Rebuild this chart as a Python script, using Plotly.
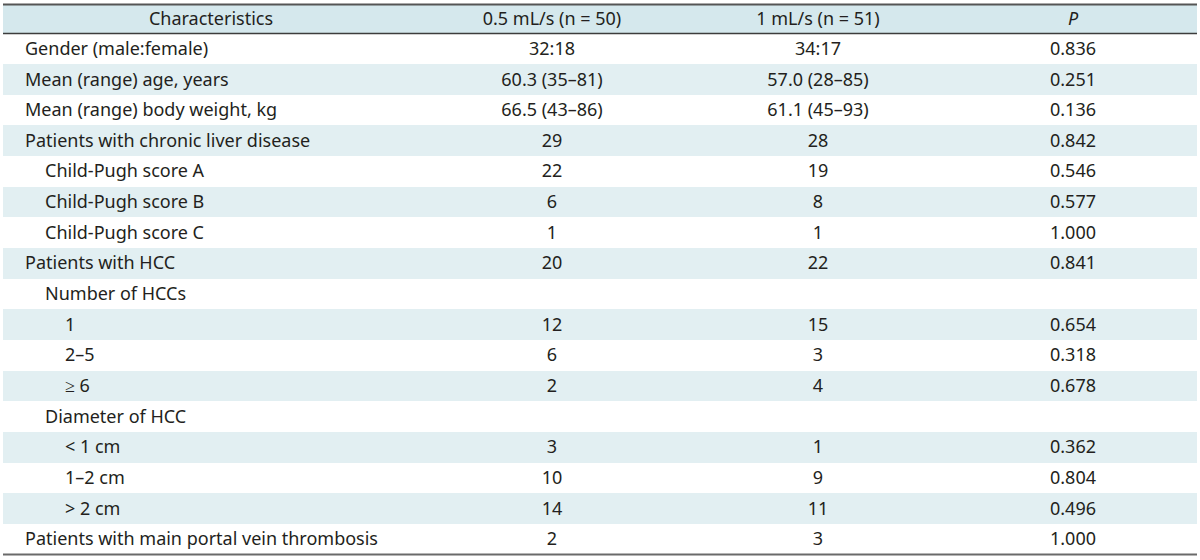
import plotly.graph_objects as go

# ---- data ----
header_labels = ["Characteristics", "0.5 mL/s (n = 50)", "1 mL/s (n = 51)", "<i>P</i>"]

characteristics = [
    "Gender (male:female)",
    "Mean (range) age, years",
    "Mean (range) body weight, kg",
    "Patients with chronic liver disease",
    "Child-Pugh score A",
    "Child-Pugh score B",
    "Child-Pugh score C",
    "Patients with HCC",
    "Number of HCCs",
    "1",
    "2\u20135",
    "\u2265 6",
    "Diameter of HCC",
    "&lt; 1 cm",
    "1\u20132 cm",
    "&gt; 2 cm",
    "Patients with main portal vein thrombosis",
]
indent_levels = [0, 0, 0, 0, 1, 1, 1, 0, 1, 2, 2, 2, 1, 2, 2, 2, 0]

rate_05 = ["32:18", "60.3 (35\u201381)", "66.5 (43\u201386)", "29", "22", "6", "1", "20", "",
           "12", "6", "2", "", "3", "10", "14", "2"]
rate_1 = ["34:17", "57.0 (28\u201385)", "61.1 (45\u201393)", "28", "19", "8", "1", "22", "",
          "15", "3", "4", "", "1", "9", "11", "3"]
p_values = ["0.836", "0.251", "0.136", "0.842", "0.546", "0.577", "1.000", "0.841", "",
            "0.654", "0.318", "0.678", "", "0.362", "0.804", "0.496", "1.000"]

# ---- styling / layout constants ----
W, H = 1200, 560
HEADER_FILL = "#d5e8ed"
STRIPE_FILL = "#e2eff2"
TEXT = "#231f20"
LINE_TOP = "#555555"
LINE_MID = "#3c3c3c"
LINE_BOT = "#6a6a6a"
FONT = dict(family="Noto Sans", size=18, color=TEXT)

X_LEFT, X_RIGHT = 3, 1197          # table extent (x axis in pixel units)
LABEL_X = 25                        # left text start
INDENT = 20                         # px per indent level
COL_CENTERS = [211, 552, 818, 1073]
TEXT_DY = 0.05                      # small downward nudge of text within rows

ROW_PX = 30.65
PLOT_TOP, PLOT_BOT = 3, 557
HEADER_BOTTOM_PX = 33.5
TOP_LINE_PX = 4.5

n = len(characteristics)
rows = list(range(n))
text_rows = [r + TEXT_DY for r in rows]
y_header_bottom = -0.5
y_top_line = y_header_bottom - (HEADER_BOTTOM_PX - TOP_LINE_PX) / ROW_PX
y_range_top = y_header_bottom - (HEADER_BOTTOM_PX - PLOT_TOP) / ROW_PX
y_range_bot = y_range_top + (PLOT_BOT - PLOT_TOP) / ROW_PX
y_header_c = (y_top_line + y_header_bottom) / 2
header_w = y_header_bottom - y_top_line

fig = go.Figure()

# header background
fig.add_trace(go.Bar(
    y=[y_header_c], x=[X_RIGHT - X_LEFT], base=[X_LEFT], width=[header_w],
    orientation="h", marker=dict(color=HEADER_FILL, line=dict(width=0)),
    hoverinfo="skip", showlegend=False))

# striped rows
stripe_rows = [r for r in rows if r % 2 == 1]
fig.add_trace(go.Bar(
    y=stripe_rows, x=[X_RIGHT - X_LEFT] * len(stripe_rows), base=[X_LEFT] * len(stripe_rows),
    width=1, orientation="h", marker=dict(color=STRIPE_FILL, line=dict(width=0)),
    hoverinfo="skip", showlegend=False))

# header texts
fig.add_trace(go.Scatter(
    x=COL_CENTERS, y=[y_header_c + TEXT_DY] * 4, text=header_labels, mode="text",
    textposition="middle center", textfont=FONT, hoverinfo="skip", showlegend=False))

# first column (left aligned with indentation)
fig.add_trace(go.Scatter(
    x=[LABEL_X + INDENT * lvl for lvl in indent_levels], y=text_rows, text=characteristics,
    mode="text", textposition="middle right", textfont=FONT,
    hoverinfo="skip", showlegend=False))

# value columns
for cx, vals in zip(COL_CENTERS[1:], [rate_05, rate_1, p_values]):
    fig.add_trace(go.Scatter(
        x=[cx] * n, y=text_rows, text=vals, mode="text", textposition="middle center",
        textfont=FONT, hoverinfo="skip", showlegend=False))

# rules
for yy, w, c in [(y_top_line, 2, LINE_TOP), (y_header_bottom, 1.5, LINE_MID), (n - 0.5, 2, LINE_BOT)]:
    fig.add_shape(type="line", xref="x", yref="y", x0=X_LEFT, x1=X_RIGHT, y0=yy, y1=yy,
                  line=dict(color=c, width=w), layer="above")

fig.update_layout(
    width=W, height=H,
    margin=dict(l=0, r=0, t=PLOT_TOP, b=H - PLOT_BOT),
    paper_bgcolor="white", plot_bgcolor="white",
    barmode="overlay", bargap=0,
    xaxis=dict(range=[0, W], visible=False, fixedrange=True),
    yaxis=dict(range=[y_range_bot, y_range_top], visible=False, fixedrange=True),
    showlegend=False,
)

fig.write_html(
    "out.html",
    config={"displayModeBar": False},
    post_script="document.body.style.margin='0';document.body.style.overflow='hidden';",
)
